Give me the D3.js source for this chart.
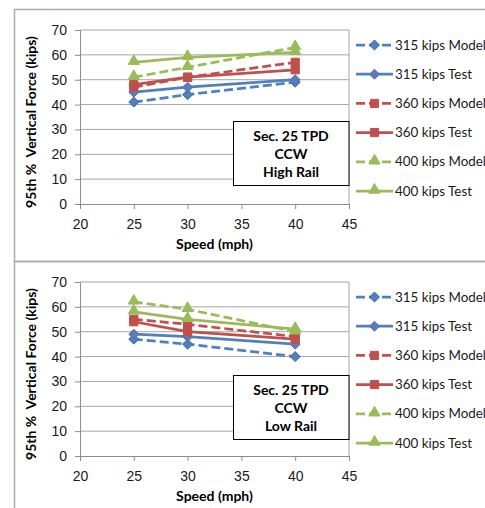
<!DOCTYPE html>
<html>
<head>
<meta charset="utf-8">
<script src="https://cdn.jsdelivr.net/npm/d3@7"></script>
<style>
  body { margin: 0; background: #fff; }
  svg { display: block; font-family: Lato, "Open Sans", sans-serif; }
  .tick text { font-size: 14px; fill: #1a1a1a; }
</style>
</head>
<body>
<div id="wrapper"></div>
<script>
// speeds along the x axis
const speeds = [25, 30, 40];

// High Rail panel
const high315Model = [41, 44, 49];
const high315Test = [45, 47, 50];
const high360Model = [47, 51, 57];
const high360Test = [48, 51, 54];
const high400Model = [51, 55, 63];
const high400Test = [57, 59, 61];

// Low Rail panel
const low315Model = [47, 45, 40];
const low315Test = [49, 48, 45];
const low360Model = [55, 53, 48];
const low360Test = [54, 50, 47];
const low400Model = [62, 59, 50];
const low400Test = [58, 55, 51];

const seriesNames = [
  "315 kips Model", "315 kips Test",
  "360 kips Model", "360 kips Test",
  "400 kips Model", "400 kips Test"
];
const xTicks = [20, 25, 30, 35, 40, 45];
const yTicks = [0, 10, 20, 30, 40, 50, 60, 70];
const panelTitles = [
  ["Sec. 25 TPD", "CCW", "High Rail"],
  ["Sec. 25 TPD", "CCW", "Low Rail"]
];

const styles = [
  { color: "#4F81BD", dash: true, marker: "diamond", stroke: "#3A6AA8" },
  { color: "#4F81BD", dash: false, marker: "diamond", stroke: "#7D5FA0" },
  { color: "#C0504D", dash: true, marker: "square", stroke: "#C0504D" },
  { color: "#C0504D", dash: false, marker: "square", stroke: "#C0504D" },
  { color: "#9BBB59", dash: true, marker: "triangle", stroke: "#9BBB59" },
  { color: "#9BBB59", dash: false, marker: "triangle", stroke: "#9BBB59" }
];

const panels = [
  { offset: 0, boxDy: 0, series: [high315Model, high315Test, high360Model, high360Test, high400Model, high400Test] },
  { offset: 252, boxDy: 2, series: [low315Model, low315Test, low360Model, low360Test, low400Model, low400Test] }
];

const dimensions = {
  width: 485,
  height: 508,
  plotLeft: 80,
  plotRight: 349,
  plotTop: 30,
  plotBottom: 204
};

const svg = d3.select("#wrapper")
  .append("svg")
  .attr("width", dimensions.width)
  .attr("height", dimensions.height);

const xScale = d3.scaleLinear()
  .domain([20, 45])
  .range([dimensions.plotLeft, dimensions.plotRight]);

const yScale = d3.scaleLinear()
  .domain([0, 70])
  .range([dimensions.plotBottom, dimensions.plotTop]);

const symbolFor = {
  diamond: d3.symbol().type(d3.symbolDiamond2).size(64),
  square: d3.symbol().type(d3.symbolSquare2).size(85),
  triangle: d3.symbol().type(d3.symbolTriangle2).size(90)
};

function drawMarker(g, x, y, st) {
  g.append("path")
    .attr("d", symbolFor[st.marker]())
    .attr("transform", `translate(${x},${y - (st.marker === "triangle" ? 1 : 0)})`)
    .attr("fill", st.color)
    .attr("stroke", st.stroke)
    .attr("stroke-width", 1);
}

const line = d3.line()
  .x((d) => xScale(d[0]))
  .y((d) => yScale(d[1]));

panels.forEach((panel, pi) => {
  const g = svg.append("g").attr("transform", `translate(0,${panel.offset})`);

  // outer frame
  g.append("rect")
    .attr("x", 14.5)
    .attr("y", 9.5)
    .attr("width", 520)
    .attr("height", pi === 0 ? 252 : 320)
    .attr("fill", "none")
    .attr("stroke", "#ADADAD")
    .attr("stroke-width", 1.5);

  // gridlines
  g.append("g")
    .selectAll("line")
    .data(yTicks.filter((d) => d > 0))
    .join("line")
    .attr("x1", dimensions.plotLeft)
    .attr("x2", dimensions.plotRight)
    .attr("y1", (d) => yScale(d))
    .attr("y2", (d) => yScale(d))
    .attr("stroke", "#A6A6A6")
    .attr("stroke-width", 1);

  // right border of plot area
  g.append("line")
    .attr("x1", dimensions.plotRight)
    .attr("x2", dimensions.plotRight)
    .attr("y1", dimensions.plotTop)
    .attr("y2", dimensions.plotBottom)
    .attr("stroke", "#A6A6A6");

  // axes
  const xAxis = g.append("g")
    .attr("transform", `translate(0,${dimensions.plotBottom})`)
    .call(d3.axisBottom(xScale).tickValues(xTicks).tickSize(5).tickPadding(7));
  const yAxis = g.append("g")
    .attr("transform", `translate(${dimensions.plotLeft},0)`)
    .call(d3.axisLeft(yScale).tickValues(yTicks).tickSize(5).tickPadding(8));
  [xAxis, yAxis].forEach((a) => {
    a.select(".domain").attr("stroke", "#8C8C8C");
    a.selectAll(".tick line").attr("stroke", "#8C8C8C");
  });
  xAxis.selectAll(".tick text").attr("dy", "0.9em");

  // axis labels
  g.append("text")
    .attr("x", (dimensions.plotLeft + dimensions.plotRight) / 2)
    .attr("y", 249)
    .attr("text-anchor", "middle")
    .style("font-size", "14px")
    .style("font-weight", "bold")
    .text("Speed (mph)");

  g.append("text")
    .attr("transform", `translate(36,${122}) rotate(-90)`)
    .attr("text-anchor", "middle")
    .style("font-size", "14px")
    .style("font-weight", "bold")
    .style("white-space", "pre")
    .text("95th %  Vertical Force (kips)");

  // series
  panel.series.forEach((values, si) => {
    const st = styles[si];
    const pts = speeds.map((s, i) => [s, values[i]]);
    const sg = g.append("g");
    sg.append("path")
      .attr("d", line(pts))
      .attr("fill", "none")
      .attr("stroke", st.color)
      .attr("stroke-width", 2.75)
      .attr("stroke-dasharray", st.dash ? "9,4" : null);
    pts.forEach((p) => drawMarker(sg, xScale(p[0]), yScale(p[1]), st));
  });

  // annotation box
  const boxTop = 121 + panel.boxDy;
  g.append("rect")
    .attr("x", 233.5)
    .attr("y", boxTop + 0.5)
    .attr("width", 115.5)
    .attr("height", 64)
    .attr("fill", "#fff")
    .attr("stroke", "#000")
    .attr("stroke-width", 1);
  panelTitles[pi].forEach((t, i) => {
    g.append("text")
      .attr("x", 291)
      .attr("y", boxTop + 15 + i * 18)
      .attr("dy", "0.35em")
      .attr("text-anchor", "middle")
      .style("font-size", "14px")
      .style("font-weight", "bold")
      .text(t);
  });

  // legend
  const legend = g.append("g");
  seriesNames.forEach((name, si) => {
    const st = styles[si];
    const y = 45 + si * 29.2;
    legend.append("line")
      .attr("x1", 356)
      .attr("x2", 393)
      .attr("y1", y)
      .attr("y2", y)
      .attr("stroke", st.color)
      .attr("stroke-width", 2.75)
      .attr("stroke-dasharray", st.dash ? "9,4" : null);
    drawMarker(legend, 374.5, y, st);
    legend.append("text")
      .attr("x", 395)
      .attr("y", y)
      .attr("dy", "0.35em")
      .style("font-size", "13.4px")
      .style("fill", "#1a1a1a")
      .text(name);
  });
});
</script>
</body>
</html>
